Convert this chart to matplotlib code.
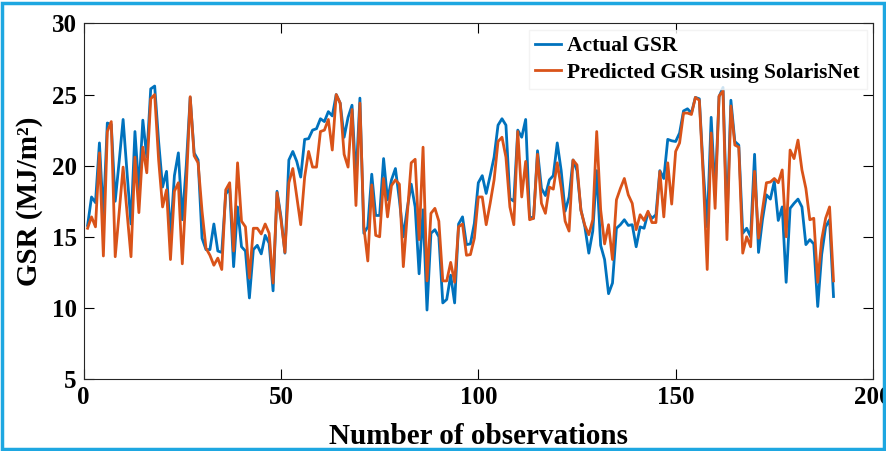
import matplotlib
matplotlib.use("Agg")
import matplotlib.pyplot as plt
from matplotlib.patches import Rectangle

actual_gsr = [
    15.8, 17.8, 17.4, 21.6, 16.4, 23.0, 22.9, 17.5, 20.3, 23.25,
    19.5, 15.9, 22.4, 18.3, 23.2, 20.6, 25.4, 25.6, 21.7, 18.5,
    19.6, 15.1, 19.3, 20.9, 16.2, 20.0, 24.8, 20.9, 20.4, 14.9,
    14.1, 14.1, 15.9, 14.0, 13.9, 18.0, 18.4, 12.9, 17.1, 14.3,
    14.0, 10.7, 14.1, 14.4, 13.8, 15.1, 14.55, 11.2, 18.2, 16.4,
    13.85, 20.4, 21.0, 20.3, 19.2, 21.85, 21.9, 22.5, 22.6, 23.3,
    23.1, 23.8, 23.5, 25.0, 24.4, 22.0, 23.4, 24.25, 19.0, 24.75,
    15.25, 15.7, 19.4, 16.5, 16.5, 20.5, 17.6, 19.0, 19.8, 17.6,
    15.0, 17.0, 18.7, 17.1, 12.4, 16.9, 9.85, 15.25, 15.5, 15.0,
    10.35, 10.6, 12.3, 10.35, 15.9, 16.4, 14.45, 14.5, 15.95, 18.8,
    19.3, 18.05, 19.3, 20.6, 22.85, 23.3, 22.85, 17.7, 17.5, 22.5,
    22.0, 23.25, 16.4, 16.3, 21.05, 18.4, 17.9, 19.0, 19.3, 21.6,
    19.65, 16.8, 17.8, 20.4, 19.65, 16.9, 15.7, 13.85, 15.4, 19.65,
    14.4, 13.4, 11.0, 11.75, 15.6, 15.85, 16.2, 15.8, 15.85, 14.3,
    15.7, 15.6, 16.7, 16.3, 16.55, 19.65, 19.1, 21.85, 21.75, 21.7,
    22.3, 23.85, 24.0, 23.7, 24.8, 24.7, 19.7, 15.7, 23.4, 18.05,
    24.85, 25.5, 16.0, 24.6, 21.7, 21.45, 15.25, 15.6, 15.0, 20.8,
    13.9, 16.2, 17.95, 17.65, 18.9, 16.15, 17.1, 11.8, 17.0, 17.35,
    17.65, 17.1, 14.45, 14.8, 14.5, 10.1, 13.75, 15.7, 16.2, 10.8,
]

predicted_gsr = [
    15.6, 16.4, 15.7, 20.9, 13.65, 22.4, 23.1, 13.6, 16.7, 19.9,
    16.7, 13.6, 20.6, 16.7, 21.3, 19.5, 24.7, 25.0, 20.4, 17.1,
    18.3, 13.4, 18.2, 18.8, 13.1, 18.5, 24.85, 20.7, 20.2, 16.8,
    14.2, 13.7, 13.0, 13.5, 12.7, 18.3, 18.8, 14.0, 20.2, 16.1,
    15.7, 12.1, 15.6, 15.6, 15.2, 15.9, 15.25, 11.75, 18.1, 16.2,
    13.9, 18.8, 19.8, 17.8, 15.85, 19.2, 21.0, 19.9, 19.9, 22.4,
    22.5, 23.25, 21.1, 25.0, 24.4, 20.8, 19.9, 23.95, 17.2, 24.4,
    15.7, 13.3, 18.65, 15.1, 15.0, 19.1, 16.4, 18.6, 19.0, 18.7,
    12.9, 16.5, 20.2, 20.45, 14.8, 21.3, 11.9, 16.65, 17.0, 16.1,
    11.9, 11.9, 13.2, 11.8, 15.7, 15.9, 13.7, 13.75, 14.9, 17.8,
    17.8, 15.85, 17.35, 19.0, 21.7, 22.0, 20.6, 17.1, 15.85, 22.4,
    17.8, 20.3, 16.2, 16.3, 20.8, 17.35, 16.65, 18.5, 18.35, 20.2,
    18.45, 16.1, 15.4, 20.4, 20.05, 16.85, 15.8, 15.15, 16.2, 22.4,
    16.9, 14.5, 15.85, 13.4, 17.6, 18.4, 19.1, 17.95, 17.35, 15.5,
    16.55, 16.15, 16.8, 16.0, 16.0, 19.6, 16.4, 20.2, 17.3, 21.0,
    21.6, 23.7, 23.7, 23.6, 24.8, 24.6, 19.2, 12.7, 22.3, 17.0,
    24.9, 25.25, 14.8, 24.2, 21.45, 21.3, 13.85, 15.0, 14.3, 19.6,
    14.9, 16.9, 18.8, 18.85, 19.1, 18.8, 19.7, 15.0, 21.1, 20.5,
    21.8, 19.7, 18.4, 16.2, 16.3, 11.8, 14.8, 16.3, 17.1, 11.9,
]

observations = list(range(1, len(actual_gsr) + 1))
x_ticks = [0, 50, 100, 150, 200]
y_ticks = [5, 10, 15, 20, 25, 30]
series_labels = ["Actual GSR", "Predicted GSR using SolarisNet"]

plt.rcParams["font.family"] = ["Liberation Serif", "DejaVu Serif"]
plt.rcParams["font.weight"] = "bold"

fig = plt.figure(figsize=(8.86, 4.51), dpi=100)
ax = fig.add_axes([0.0944, 0.1596, 0.8909, 0.7884])

ax.plot(observations, actual_gsr, color="#0072BD", linewidth=2.0, label=series_labels[0])
ax.plot(observations, predicted_gsr, color="#D95319", linewidth=2.0, label=series_labels[1])

ax.set_xlim(0, 200)
ax.set_ylim(5, 30)
ax.set_xticks(x_ticks)
ax.set_yticks(y_ticks)
ax.tick_params(direction="in", length=7, width=0.8, top=True, right=True,
               labelsize=18, pad=5)
for lab in ax.get_xticklabels() + ax.get_yticklabels():
    lab.set_fontweight("bold")
for s in ax.spines.values():
    s.set_linewidth(0.8)
    s.set_color("#262626")

ax.set_xlabel("Number of observations", fontsize=21, fontweight="bold", labelpad=10)
ax.set_ylabel("GSR (MJ/m²)", fontsize=21, fontweight="bold", labelpad=6)

leg = ax.legend(loc="upper right", fontsize=15.5, frameon=True, fancybox=False,
                edgecolor="#F0F0F0", handlelength=1.2, handletextpad=0.3,
                borderaxespad=0.3, borderpad=0.3, labelspacing=0.3)
for t in leg.get_texts():
    t.set_fontweight("bold")

fig.patches.append(Rectangle((0.002, 0.004), 0.996, 0.99, transform=fig.transFigure,
                             fill=False, edgecolor="#1EA7E1", linewidth=2.5))

fig.savefig("out.png", dpi=100)
